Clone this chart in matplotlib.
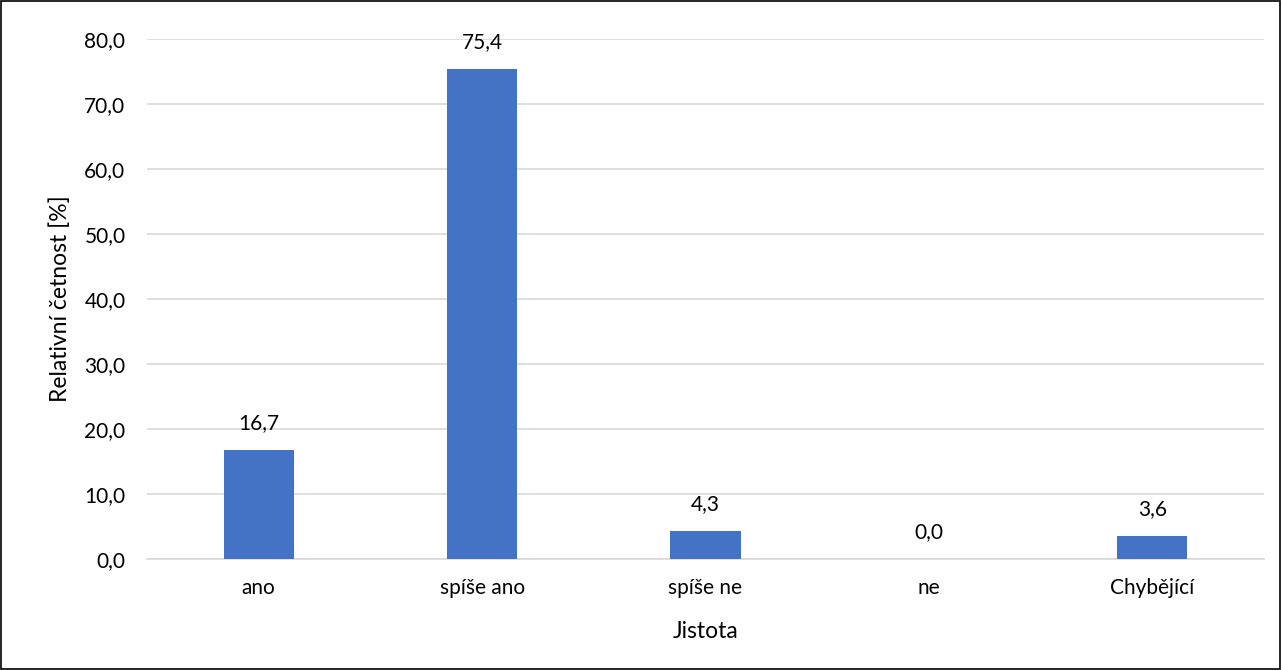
import matplotlib
matplotlib.use("Agg")
import matplotlib.pyplot as plt
from matplotlib.patches import Rectangle

categories = ["ano", "spíše ano", "spíše ne", "ne", "Chybějící"]
values = [16.7, 75.4, 4.3, 0.0, 3.6]
yticks = [0, 10, 20, 30, 40, 50, 60, 70, 80]

BAR_COLOR = "#4472C4"
GRID_COLOR = "#D9D9D9"
TEXT_COLOR = "#000000"

plt.rcParams["font.family"] = ["Lato", "DejaVu Sans"]
plt.rcParams["font.size"] = 15

fig = plt.figure(figsize=(12.82, 6.70), dpi=100)
ax = fig.add_axes([147 / 1282, 111 / 670, 1117 / 1282, 520 / 670])

x = range(len(categories))
bars = ax.bar(x, values, width=0.315, color=BAR_COLOR, zorder=3)
for bar, val in zip(bars, values):
    ax.text(bar.get_x() + bar.get_width() / 2, val + 2.6, f"{val:.1f}".replace(".", ","),
            ha="center", va="bottom", fontsize=15, color=TEXT_COLOR)

ax.set_xlim(-0.5, len(categories) - 0.5)
ax.set_ylim(0, 80)
ax.set_yticks(yticks)
ax.set_yticklabels([f"{t:.1f}".replace(".", ",") for t in yticks])
ax.set_xticks(list(x))
ax.set_xticklabels(categories)
ax.yaxis.grid(True, color=GRID_COLOR, linewidth=1.2, zorder=0)
ax.tick_params(axis="both", length=0, labelsize=15, colors=TEXT_COLOR)
ax.tick_params(axis="y", pad=15.5)
ax.tick_params(axis="x", pad=14)
for side in ["top", "right", "left"]:
    ax.spines[side].set_visible(False)
ax.spines["bottom"].set_color(GRID_COLOR)
ax.spines["bottom"].set_linewidth(1.2)

ax.set_xlabel("Jistota", fontsize=16.5)
ax.set_ylabel("Relativní četnost [%]", fontsize=16.5)
ax.xaxis.set_label_coords((706 - 147) / 1117, (559 - 631) / 520)
ax.yaxis.set_label_coords((60 - 147) / 1117, 0.5)
ax.xaxis.label.set_va("center")
ax.yaxis.label.set_va("center")

fig.patches.append(Rectangle((0.0008, 0.0015), 0.998, 0.997, transform=fig.transFigure,
                             fill=False, edgecolor="black", linewidth=1.2))

fig.savefig("out.png", dpi=100)
